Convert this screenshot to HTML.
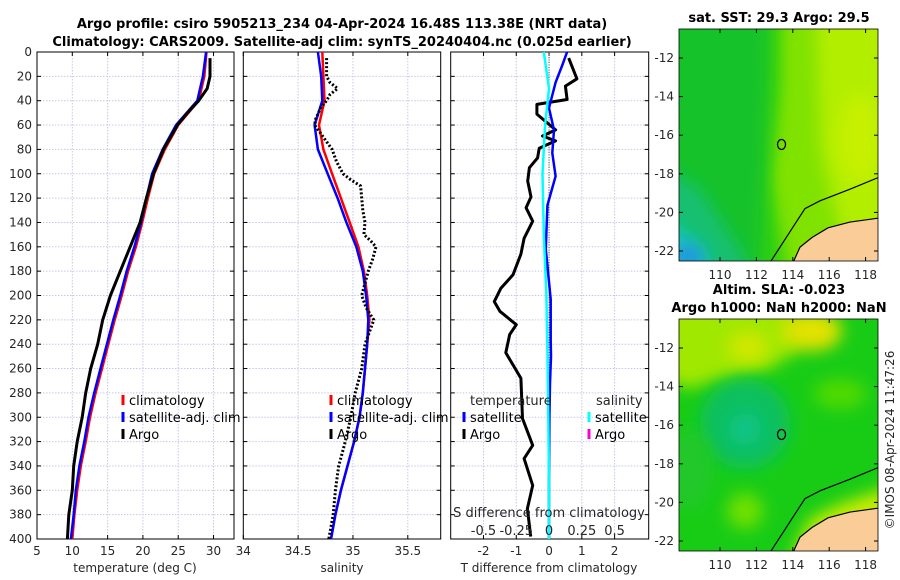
<!DOCTYPE html>
<html><head><meta charset="utf-8"><style>
html,body{margin:0;padding:0;background:#fff;}
svg{display:block;font-family:"DejaVu Sans","Liberation Sans",sans-serif;}
.t{font-size:12px;fill:#262626;}
.ttl{font-size:13px;font-weight:bold;fill:#000;}
</style></head><body>
<svg id="fig" width="900" height="580" viewBox="0 0 900 580" xmlns="http://www.w3.org/2000/svg">
<text class="ttl" x="342" y="28" text-anchor="middle">Argo profile: csiro 5905213_234 04-Apr-2024 16.48S 113.38E (NRT data)</text>
<text class="ttl" x="342" y="46" text-anchor="middle">Climatology: CARS2009. Satellite-adj clim: synTS_20240404.nc (0.025d earlier)</text>
<text class="ttl" x="779" y="22" text-anchor="middle">sat. SST: 29.3 Argo: 29.5</text>
<text class="ttl" x="779" y="294" text-anchor="middle">Altim. SLA: -0.023</text>
<text class="ttl" x="779" y="312" text-anchor="middle">Argo h1000: NaN h2000: NaN</text>
<text class="t" transform="translate(894,440) rotate(-90)" text-anchor="middle">©IMOS 08-Apr-2024 11:47:26</text>
<g id="plots"></g>
</svg>
<script>
// ---- data ----
const depths = [0,20,40,60,80,100,120,140,160,180,200,220,240,260,280,300,320,340,360,380,400];
const tempClim = [29.0,28.7,27.9,25.0,23.1,21.6,20.7,19.9,19.0,17.9,17.0,16.0,15.1,14.2,13.3,12.5,11.9,11.2,10.7,10.3,10.0];
const tempSat  = [28.95,28.5,27.7,24.7,22.8,21.3,20.5,19.75,18.8,17.7,16.8,15.8,14.9,14.0,13.1,12.3,11.7,11.0,10.5,10.2,9.8];
const argoDepths = [5,20,30,40,50,60,80,100,120,140,160,180,200,220,240,260,280,300,320,340,360,380,400];
const tempArgo = [29.5,29.5,29.1,27.9,26.3,24.9,22.9,21.5,20.5,19.6,18.2,16.8,15.4,14.3,13.6,12.6,11.9,11.4,10.7,10.2,10.0,9.5,9.3];
const salClim = [34.72,34.73,34.74,34.69,34.73,34.81,34.89,34.97,35.05,35.10,35.13,35.15,35.13,35.11,35.09,35.06,35.01,34.95,34.89,34.84,34.80];
const salSat  = [34.68,34.71,34.72,34.65,34.68,34.77,34.86,34.94,35.03,35.09,35.12,35.14,35.13,35.11,35.09,35.06,35.01,34.95,34.89,34.84,34.80];
const salArgoDepths = [5,20,25,30,35,40,45,55,60,65,75,80,90,100,105,110,120,130,140,150,155,160,170,180,190,200,210,220,230,240,260,280,300,320,340,360,380,400];
const salArgo = [34.76,34.76,34.79,34.86,34.79,34.76,34.71,34.66,34.65,34.69,34.77,34.81,34.85,34.91,34.98,35.07,35.08,35.09,35.11,35.10,35.16,35.21,35.18,35.14,35.11,35.08,35.12,35.19,35.15,35.11,35.08,35.02,34.98,34.93,34.87,34.84,34.82,34.78];
const dtDepths = [5,22,28,39,43,51,64,69,73,79,87,95,106,119,128,139,153,166,183,194,205,213,224,232,247,268,301,323,334,356,375,398];
const dtArgo = [0.6,0.85,0.5,0.55,-0.37,-0.37,0.2,-0.2,0.2,-0.3,-0.35,-0.6,-0.65,-0.55,-0.7,-0.5,-0.76,-0.86,-1.1,-1.47,-1.67,-1.5,-1.0,-1.2,-1.32,-0.86,-0.81,-0.5,-0.76,-0.5,-0.66,-0.56];
const dtSatDepths = [0,11,25,46,64,83,102,126,162,203,236,250,272,300,350,400];
const dtSat = [0.55,0.4,0.2,0.0,0.15,0.1,0.2,-0.05,-0.1,0.05,0.05,0.06,0.03,0.01,0.0,0.0];
const dsSatDepths = [0,30,60,100,150,200,250,300,350,400];
const dsSat = [-0.04,0.0,-0.03,-0.05,-0.04,-0.02,-0.012,-0.006,0.0,0.0];
const depthTicks = [0,20,40,60,80,100,120,140,160,180,200,220,240,260,280,300,320,340,360,380,400];
const tempTicks = [5,10,15,20,25,30];
const salTicks = [34,34.5,35,35.5];
const dtTicks = [-2,-1,0,1,2];
const dsTicks = ['-0.5','-0.25','0','0.25','0.5'];
const lonTicks = [110,112,114,116,118];
const latTicks = [-12,-14,-16,-18,-20,-22];

const NS='http://www.w3.org/2000/svg';
const root=document.getElementById('plots');
function el(tag,attrs,parent){const e=document.createElementNS(NS,tag);for(const k in attrs)e.setAttribute(k,attrs[k]);(parent||root).appendChild(e);return e;}
function txt(x,y,s,anchor,parent){const e=el('text',{x:x,y:y,'class':'t','text-anchor':anchor||'middle'},parent);e.textContent=s;return e;}

const TOP=52,BOT=539;
const yD=d=>TOP+(d/400)*(BOT-TOP);
function panel(name,x0,x1,xmin,xmax){
  const g=el('g',{});
  
  
  const sx=v=>x0+(v-xmin)/(xmax-xmin)*(x1-x0);
  return {g,sx,x0,x1};
}
function frame(p,xt,labelsY,xlabels){
  depthTicks.forEach(d=>{const y=yD(d);
    if(d>0&&d<400){const l=el('line',{x1:p.x0,x2:p.x1,y1:y,y2:y,stroke:'#c4c9e6','stroke-width':1,'stroke-dasharray':'1.5,1.5'},p.g);}
    el('line',{x1:p.x0,x2:p.x0+4,y1:y,y2:y,stroke:'#000'},p.g);
    el('line',{x1:p.x1-4,x2:p.x1,y1:y,y2:y,stroke:'#000'},p.g);
    if(labelsY){const t=txt(p.x0-5,y+4,String(d),'end',p.g);}
  });
  xt.forEach((v,i)=>{const x=p.sx(v);
    if(x>p.x0+1&&x<p.x1-1){const l=el('line',{x1:x,x2:x,y1:TOP,y2:BOT,stroke:'#c4c9e6','stroke-width':1,'stroke-dasharray':'1.5,1.5'},p.g);}
    el('line',{x1:x,x2:x,y1:BOT,y2:BOT-4,stroke:'#000'},p.g);
    el('line',{x1:x,x2:x,y1:TOP,y2:TOP+4,stroke:'#000'},p.g);
    const t=txt(x,555,xlabels?xlabels[i]:String(v),'middle',p.g);
  });
  el('rect',{x:p.x0,y:TOP,width:p.x1-p.x0,height:BOT-TOP,fill:'none',stroke:'#000','stroke-width':1},p.g);
}
function line(p,ds,vs,color,w,name,dash,sx){
  const f=sx||p.sx;
  const pts=ds.map((d,i)=>f(vs[i]).toFixed(1)+','+yD(d).toFixed(1)).join(' ');
  const l=el('polyline',{points:pts,fill:'none',stroke:color,'stroke-width':w,'stroke-linejoin':'round'},p.g);
  if(dash)l.setAttribute('stroke-dasharray',dash);
  
  
}
function legendEntry(g,x,y,color,label,name){
  const m=el('rect',{x:x-1.5,y:y-10,width:3,height:10,fill:color},g);
  
  
  const t=txt(x+6,y,label,'start',g);t.setAttribute('style','font-size:13px;fill:#000');
  
  
}

// Panel 1 temperature
const p1=panel('temperature-panel',37,234,5,32.9);
frame(p1,tempTicks,true);
line(p1,depths,tempClim,'#ff0000',2.5,'temp-climatology-line');
line(p1,depths,tempSat,'#0000ff',2.5,'temp-satellite-line');
line(p1,argoDepths,tempArgo,'#000',3,'temp-argo-line');
legendEntry(p1.g,123,405,'#f00','climatology','legend-climatology');
legendEntry(p1.g,123,422,'#00f','satellite-adj. clim','legend-satellite');
legendEntry(p1.g,123,439,'#000','Argo','legend-argo');
txt(135,572,'temperature (deg C)','middle',p1.g);

// Panel 2 salinity
const p2=panel('salinity-panel',243.3,440.7,34,35.8);
frame(p2,salTicks,false);
line(p2,depths,salClim,'#ff0000',2.5,'sal-climatology-line');
line(p2,depths,salSat,'#0000ff',2.5,'sal-satellite-line');
line(p2,salArgoDepths,salArgo,'#000',3,'sal-argo-line','2,2');
legendEntry(p2.g,331,405,'#f00','climatology','legend-climatology-2');
legendEntry(p2.g,331,422,'#00f','satellite-adj. clim','legend-satellite-2');
legendEntry(p2.g,331,439,'#000','Argo','legend-argo-2');
txt(342,572,'salinity','middle',p2.g);

// Panel 3 differences
const p3=panel('difference-panel',450.7,648.7,-3,3.04);
frame(p3,dtTicks,false);
const z=el('line',{x1:p3.sx(0),x2:p3.sx(0),y1:TOP,y2:BOT,stroke:'#555','stroke-dasharray':'1,1.5'},p3.g);

const sxS=v=>p3.sx(v*4);
line(p3,dtDepths,dtArgo,'#000',3,'dt-argo-line');
line(p3,dtSatDepths,dtSat,'#0000ff',2.5,'dt-satellite-line');
line(p3,dsSatDepths,dsSat,'#00ffff',2.5,'ds-satellite-line',null,sxS);
txt(470,405,'temperature','start',p3.g).setAttribute('style','font-size:13px');
txt(596,405,'salinity','start',p3.g).setAttribute('style','font-size:13px');
legendEntry(p3.g,464,422,'#00f','satellite','legend-dt-satellite');
legendEntry(p3.g,464,439,'#000','Argo','legend-dt-argo');
legendEntry(p3.g,589,422,'#0ff','satellite','legend-ds-satellite');
legendEntry(p3.g,589,439,'#ff00cc','Argo','legend-ds-argo');
const st=txt(549,517,'S difference from climatology','middle',p3.g);st.setAttribute('style','font-size:13px');

dsTicks.forEach((s,i)=>{const t=txt(p3.sx(dtTicks[i]),535,s,'middle',p3.g);t.setAttribute('style','font-size:13px');
 });
txt(549,572,'T difference from climatology','middle',p3.g);

// Maps
function map(name,y0,blobs){
  const x0=679,x1=878,y1=y0+232;
  const g=el('g',{});
  
  
  const lx=l=>720+(l-110)*18.2, ly=l=>y0+29+(-12-l)*19.3;
  const cp=el('clipPath',{id:name+'-clip'},g);el('rect',{x:x0,y:y0,width:x1-x0,height:232},cp);
  const c=el('g',{'clip-path':'url(#'+name+'-clip)'},g);
  blobs.forEach(b=>{ if(b[0]==='r') el('rect',{x:b[1],y:y0+b[2],width:b[3],height:b[4],fill:b[5]},c);
    else if(b[0]==='e') el('ellipse',{cx:b[1],cy:y0+b[2],rx:b[3],ry:b[4],fill:b[5],filter:'url(#blur)'},c);
    else el('polygon',{points:b[1].map((v,i)=>i%2?v+y0:v).join(' '),fill:b[2],filter:b[3]?'url(#blur)':''},c);});
  const land=el('polygon',{points:[878,ly(-20.3),850,ly(-20.5),828,ly(-20.8),812,ly(-21.3),800,ly(-21.8),793,ly(-22.6),878,ly(-22.6)].join(' '),fill:'#f9cc98'},c);
  
  const coast=el('polyline',{points:[878,ly(-18.2),850,ly(-18.8),820,ly(-19.4),805,ly(-19.8),795,ly(-20.6),785,ly(-21.4),775,ly(-22.2),770,ly(-22.6)].join(' '),fill:'none',stroke:'#000','stroke-width':1.2},c);
  
  el('polyline',{points:[878,ly(-20.3),850,ly(-20.5),828,ly(-20.8),812,ly(-21.3),800,ly(-21.8),793,ly(-22.6)].join(' '),fill:'none',stroke:'#000','stroke-width':1.2},c);
  const ci=el('ellipse',{cx:lx(113.38),cy:ly(-16.48),rx:4,ry:5,fill:'none',stroke:'#000','stroke-width':1.3},g);
  
  lonTicks.forEach(l=>{const x=lx(l);el('line',{x1:x,x2:x,y1:y1,y2:y1-4,stroke:'#000'},g);el('line',{x1:x,x2:x,y1:y0,y2:y0+4,stroke:'#000'},g);
    const t=txt(x,y1+18,String(l),'middle',g);});
  latTicks.forEach(l=>{const y=ly(l);el('line',{x1:x0,x2:x0+4,y1:y,y2:y,stroke:'#000'},g);el('line',{x1:x1-4,x2:x1,y1:y,y2:y,stroke:'#000'},g);
    const t=txt(x0-5,y+4,String(l),'end',g);});
  el('rect',{x:x0,y:y0,width:x1-x0,height:232,fill:'none',stroke:'#000','stroke-width':0.8},g);
}
const defs=el('defs',{});const f=el('filter',{id:'blur',x:'-50%',y:'-50%',width:'200%',height:'200%'},defs);el('feGaussianBlur',{stdDeviation:8},f);
map('sst-map',29,[
 ['r',679,0,200,232,'#30d010'],
 ['p',[780,-40,920,-40,920,260,790,260,770,150,780,60],'#80e200',1],
 ['p',[815,-40,920,-40,920,260,840,200,820,120],'#b2ee00',1],
 ['e',860,110,22,45,'#c6f000'],
 ['p',[650,-40,770,-40,765,150,760,260,650,260],'#18c22c',1],
 ['p',[650,130,700,160,740,220,760,260,650,260],'#14c070',1],
 ['p',[650,180,700,215,720,260,650,260],'#14c4c4',1],
 ['e',688,228,14,12,'#2090e0']
]);
map('sla-map',319,[
 ['r',679,0,200,232,'#18cc16'],
 ['p',[660,-30,800,-30,800,30,770,50,720,60,690,70,660,60],'#a0e800',1],
 ['e',812,12,30,20,'#e2e200'],
 ['e',748,28,20,15,'#d0e800'],
 ['e',840,75,26,15,'#50da00'],
 ['e',745,105,45,45,'#0cc060'],
 ['e',745,110,16,16,'#10c488'],
 ['e',745,192,18,18,'#70e000'],
 ['p',[790,240,810,200,840,185,890,168,890,240],'#c8ec00',1],
 ['e',690,150,22,40,'#22c82a']
]);
</script>
</body></html>
